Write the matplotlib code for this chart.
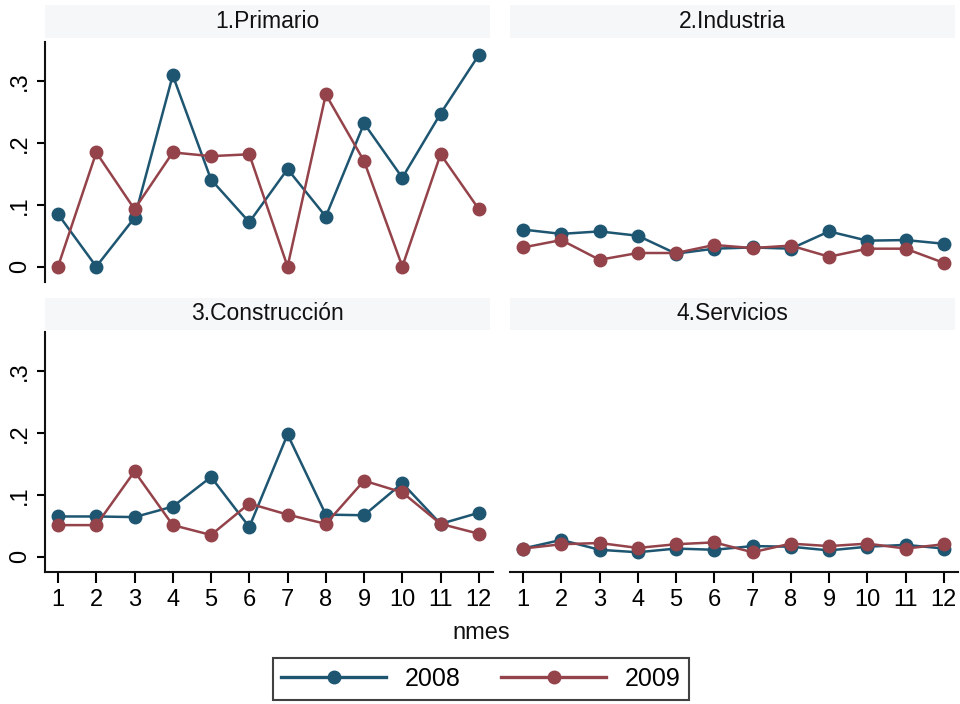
import matplotlib
matplotlib.use("Agg")
import matplotlib.pyplot as plt
from matplotlib.patches import Rectangle

plt.rcParams['font.family'] = ['Liberation Sans', 'DejaVu Sans']

months = list(range(1, 13))
month_labels = [str(m) for m in months]
panels = ["1.Primario", "2.Industria", "3.Construcción", "4.Servicios"]
years = ["2008", "2009"]

primario_2008 = [0.085, 0.0, 0.079, 0.310, 0.141, 0.072, 0.158, 0.081, 0.232, 0.144, 0.248, 0.343]
primario_2009 = [0.0, 0.185, 0.093, 0.185, 0.179, 0.182, 0.0, 0.279, 0.171, 0.0, 0.182, 0.093]
industria_2008 = [0.060, 0.053, 0.057, 0.050, 0.021, 0.029, 0.031, 0.029, 0.057, 0.042, 0.043, 0.037]
industria_2009 = [0.031, 0.043, 0.011, 0.022, 0.022, 0.035, 0.030, 0.034, 0.016, 0.029, 0.029, 0.006]
construccion_2008 = [0.065, 0.065, 0.064, 0.081, 0.129, 0.048, 0.198, 0.068, 0.067, 0.119, 0.053, 0.071]
construccion_2009 = [0.051, 0.051, 0.138, 0.051, 0.035, 0.086, 0.068, 0.053, 0.123, 0.104, 0.053, 0.037]
servicios_2008 = [0.013, 0.027, 0.011, 0.007, 0.013, 0.011, 0.017, 0.016, 0.010, 0.016, 0.019, 0.013]
servicios_2009 = [0.013, 0.020, 0.022, 0.014, 0.020, 0.023, 0.007, 0.021, 0.017, 0.021, 0.013, 0.020]

series = [
    (primario_2008, primario_2009),
    (industria_2008, industria_2009),
    (construccion_2008, construccion_2009),
    (servicios_2008, servicios_2009),
]
yticks = [0, 0.1, 0.2, 0.3]
ytick_labels = ["0", ".1", ".2", ".3"]

c2008 = '#1e5672'
c2009 = '#94434a'

W, H = 960, 704
fig = plt.figure(figsize=(W / 100, H / 100), dpi=100)

def rect(x0, y0, x1, y1):
    return [x0 / W, 1 - y1 / H, (x1 - x0) / W, (y1 - y0) / H]

boxes = [
    (45, 42, 493, 282),
    (510, 42, 958, 282),
    (45, 332, 493, 572),
    (510, 332, 958, 572),
]
title_bands = [(45, 5, 490, 38), (510, 5, 955, 38), (45, 298, 490, 330), (510, 298, 955, 330)]

lines_for_legend = None
for i, (box, band, name, (s08, s09)) in enumerate(zip(boxes, title_bands, panels, series)):
    ax = fig.add_axes(rect(*box))
    ax.set_xlim(0.66, 12.37)
    ax.set_ylim(-0.025, 0.364)
    l1, = ax.plot(months, s08, color=c2008, lw=1.8, marker='o', ms=9, zorder=3)
    l2, = ax.plot(months, s09, color=c2009, lw=1.8, marker='o', ms=9, zorder=3)
    if lines_for_legend is None:
        lines_for_legend = (l1, l2)
    for s in ['top', 'right']:
        ax.spines[s].set_visible(False)
    left = i in (0, 2)
    bottom = i in (2, 3)
    ax.spines['left'].set_visible(left)
    ax.spines['bottom'].set_visible(bottom)
    for s in ['left', 'bottom']:
        ax.spines[s].set_linewidth(1.5)
        ax.spines[s].set_color('#111111')
    if left:
        ax.set_yticks(yticks)
        ax.set_yticklabels(ytick_labels, rotation=90, va='center', fontsize=17)
        ax.tick_params(axis='y', length=6, width=1.5, pad=4)
    else:
        ax.set_yticks([])
    if bottom:
        ax.set_xticks(months)
        ax.set_xticklabels(month_labels, fontsize=17)
        ax.tick_params(axis='x', length=8, width=1.5, pad=4)
    else:
        ax.set_xticks([])
    ax.patch.set_alpha(0)
    fig.patches.append(Rectangle((band[0] / W, 1 - band[3] / H), (band[2] - band[0]) / W,
                                 (band[3] - band[1]) / H, transform=fig.transFigure,
                                 facecolor='#f6f7f9', edgecolor='none', zorder=0))
    fig.text((band[0] + band[2]) / 2 / W, 1 - (band[1] + band[3]) / 2 / H, name,
             ha='center', va='center', fontsize=16.5, color='#111111')

fig.text(481 / W, 1 - 633 / H, "nmes", ha='center', va='center', fontsize=17, color='#111111')

leg = fig.legend(lines_for_legend, years, loc='center', bbox_to_anchor=(481 / W, 1 - 679 / H),
                 ncol=2, fontsize=18, frameon=True, fancybox=False, handlelength=4.2,
                 columnspacing=1.6, handletextpad=0.75, borderpad=0.35, borderaxespad=0)
leg.get_frame().set_edgecolor('#111111')
leg.get_frame().set_linewidth(1.5)
for h in leg.legend_handles:
    h.set_linewidth(2.4)

fig.savefig("out.png", dpi=100, facecolor='white')
